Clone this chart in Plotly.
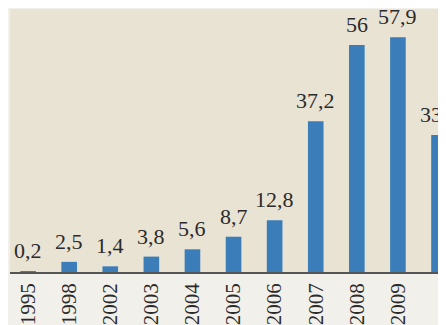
import plotly.graph_objects as go

years = ['1995', '1998', '2002', '2003', '2004', '2005', '2006', '2007', '2008', '2009', '2010']
values = [0.2, 2.5, 1.4, 3.8, 5.6, 8.7, 12.8, 37.2, 56, 57.9, 33.8]
labels = ['0,2', '2,5', '1,4', '3,8', '5,6', '8,7', '12,8', '37,2', '56', '57,9', '33,8']

serif = 'Liberation Serif, Times New Roman, serif'

fig = go.Figure()

fig.add_trace(
    go.Bar(
        x=list(range(len(years))),
        y=values,
        width=0.38,
        marker=dict(color='#3a7db8', line=dict(width=0)),
        hoverinfo='skip'
    )
)

# value labels above each bar
for i, (v, t) in enumerate(zip(values, labels)):
    fig.add_annotation(
        x=i, y=v, text=t, showarrow=False,
        xanchor='center', yanchor='bottom', yshift=6,
        font=dict(family=serif, size=22, color='#2b2b2b')
    )

# page body adds an 8px margin, so the figure is 8px smaller than the window
fig.update_layout(
    template='none',
    width=438,
    height=317,
    margin=dict(l=2, r=0, t=1, b=53, autoexpand=False),
    paper_bgcolor='#f2f0eb',
    plot_bgcolor='#e9e3d4',
    showlegend=False,
    xaxis=dict(
        range=[-0.44, 10.17],
        automargin=False,
        tickmode='array',
        tickvals=list(range(len(years))),
        ticktext=years,
        tickangle=-90,
        tickfont=dict(family=serif, size=21, color='#2b2b2b'),
        showgrid=False,
        zeroline=False,
        showline=True,
        linecolor='#555555',
        linewidth=1.5,
        ticks='',
        ticklabelstandoff=1,
    ),
    yaxis=dict(
        range=[0, 64.9],
        visible=False,
        automargin=False,
        showgrid=False,
        zeroline=False,
    ),
)

fig.write_html("out.html")
